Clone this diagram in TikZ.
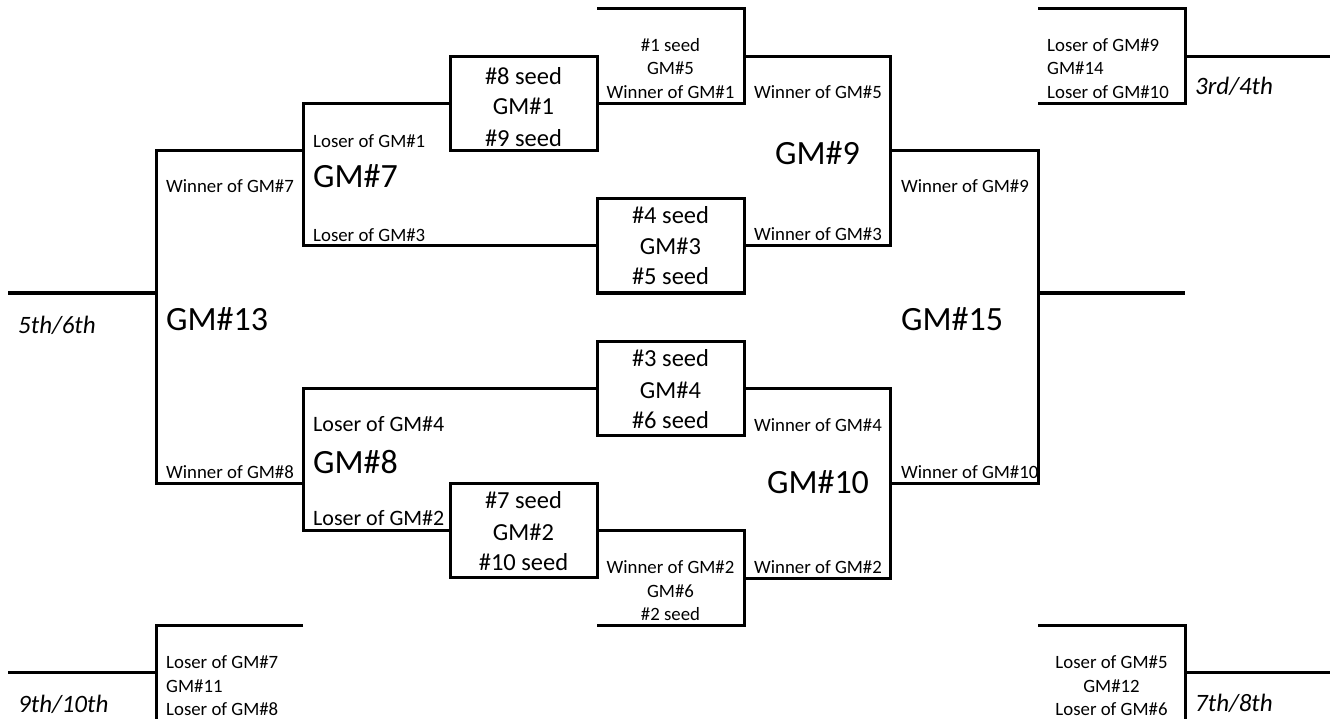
\documentclass[tikz,border=0pt]{standalone}
\usepackage{fontspec}
\setmainfont{Carlito}
\begin{document}
\begin{tikzpicture}[x=1pt,y=-1pt,
  br/.style={line width=3pt, line join=miter},
  gamebox/.style={draw, line width=3pt, minimum width=147pt, minimum height=94pt, inner sep=0pt},
  sm/.style={inner sep=0pt, font=\fontsize{18.8}{20}\selectfont},
  md/.style={inner sep=0pt, font=\fontsize{24.5}{26}\selectfont},
  lg/.style={inner sep=0pt, font=\fontsize{34}{36}\selectfont},
  mid/.style={inner sep=0pt, font=\fontsize{22}{24}\selectfont},
  pl/.style={inner sep=0pt, font=\fontsize{25}{27}\selectfont\itshape}]
\useasboundingbox (0,0) rectangle (1330,719);
% seeded first-round boxes
\node[gamebox] (g1) at (523.5,104) {};
\node[gamebox] (g3) at (670.5,246) {};
\node[gamebox] (g4) at (670.5,388) {};
\node[gamebox] (g2) at (523.5,530) {};
% coordinates
\coordinate (e13) at (8,293);
\coordinate (q13t) at (156,151); \coordinate (q13m) at (156,293); \coordinate (q13b) at (156,483);
\coordinate (p13t) at (303,151); \coordinate (p13b) at (303,483);
\coordinate (q7t) at (303,104); \coordinate (q7b) at (303,246);
\coordinate (e5t) at (597,9); \coordinate (q5t) at (744,9); \coordinate (q5b) at (744,104); \coordinate (q5m) at (744,57);
\coordinate (q9t) at (890,57); \coordinate (q9b) at (890,246); \coordinate (q9m) at (890,151);
\coordinate (q15t) at (1038,151); \coordinate (q15m) at (1038,293); \coordinate (q15b) at (1038,483);
\coordinate (e15) at (1185,293);
\coordinate (p14t) at (1038,9); \coordinate (q14t) at (1185,9); \coordinate (q14m) at (1185,57);
\coordinate (q14b) at (1185,104); \coordinate (p14b) at (1038,104); \coordinate (e14) at (1330,57);
\coordinate (q8t) at (303,388); \coordinate (q8b) at (303,530);
\coordinate (q6t) at (744,530); \coordinate (q6b) at (744,625); \coordinate (e6b) at (597,625);
\coordinate (q10t) at (890,388); \coordinate (q10b) at (890,578); \coordinate (q10m) at (890,483);
\coordinate (r10b) at (744,578);
\coordinate (p11t) at (303,625); \coordinate (q11t) at (156,625); \coordinate (q11b) at (156,720);
\coordinate (p11b) at (303,720); \coordinate (q11m) at (156,672); \coordinate (e11) at (8,672);
\coordinate (p12t) at (1038,625); \coordinate (q12t) at (1185,625); \coordinate (q12b) at (1185,720);
\coordinate (p12b) at (1038,720); \coordinate (q12m) at (1185,672); \coordinate (e12) at (1330,672);
% brackets
\draw[br] (p13t) -- (q13t) -- (q13b) -- (p13b);
\draw[br] (e13) -- (q13m);
\draw[br] (g1.west) -- (q7t) -- (q7b) -- (g3.west);
\draw[br] (g1.east) -- (q5b) -- (q5t) -- (e5t);
\draw[br] (q5m) -- (q9t) -- (q9b) -- (g3.east);
\draw[br] (q9m) -- (q15t) -- (q15b) -- (q10m);
\draw[br] (q15m) -- (e15);
\draw[br] (p14t) -- (q14t) -- (q14b) -- (p14b);
\draw[br] (q14m) -- (e14);
\draw[br] (g4.west) -- (q8t) -- (q8b) -- (g2.west);
\draw[br] (g2.east) -- (q6t) -- (q6b) -- (e6b);
\draw[br] (g4.east) -- (q10t) -- (q10b) -- (r10b);
\draw[br] (p11t) -- (q11t) -- (q11b) -- (p11b);
\draw[br] (e11) -- (q11m);
\draw[br] (p12t) -- (q12t) -- (q12b) -- (p12b);
\draw[br] (q12m) -- (e12);
% GM#13
\node[sm, anchor=base west] (w7) at (166,193) {Winner of GM\#7};
\node[lg, anchor=base west] (l13) at (166,330) {GM\#13};
\node[sm, anchor=base west] (w8) at (166,478) {Winner of GM\#8};
\node[pl, anchor=base west] (r56) at (18,333) {5th/6th};
% GM#7
\node[sm, anchor=base west] (lo1) at (313,148) {Loser of GM\#1};
\node[lg, anchor=base west] (l7) at (313,188) {GM\#7};
\node[sm, anchor=base west] (lo3) at (313,242) {Loser of GM\#3};
% GM#1 box
\node[md, anchor=base] (s8) at (523.5,85) {\#8 seed};
\node[md, anchor=base] (l1) at (523.5,115) {GM\#1};
\node[md, anchor=base] (s9) at (523.5,147) {\#9 seed};
% GM#5
\node[sm, anchor=base] (s1) at (670.5,52) {\#1 seed};
\node[sm, anchor=base] (l5) at (670.5,75) {GM\#5};
\node[sm, anchor=base] (w1) at (670.5,99) {Winner of GM\#1};
% GM#9
\node[sm, anchor=base west] (w5) at (754,99) {Winner of GM\#5};
\node[lg, anchor=base] (l9) at (817.5,165) {GM\#9};
\node[sm, anchor=base west] (w3) at (754,241) {Winner of GM\#3};
% GM#3 box
\node[md, anchor=base] (s4) at (670.5,224) {\#4 seed};
\node[md, anchor=base] (l3) at (670.5,255) {GM\#3};
\node[md, anchor=base] (s5) at (670.5,285) {\#5 seed};
% GM#15
\node[sm, anchor=base west] (w9) at (901,193) {Winner of GM\#9};
\node[lg, anchor=base west] (l15) at (901,330) {GM\#15};
\node[sm, anchor=base west] (w10) at (901,478) {Winner of GM\#10};
% GM#14
\node[sm, anchor=base west] (lo9) at (1047,52) {Loser of GM\#9};
\node[sm, anchor=base west] (l14) at (1047,75) {GM\#14};
\node[sm, anchor=base west] (lo10) at (1047,99) {Loser of GM\#10};
\node[pl, anchor=base west] (r34) at (1195,95) {3rd/4th};
% GM#4 box
\node[md, anchor=base] (s3) at (670.5,366) {\#3 seed};
\node[md, anchor=base] (l4) at (670.5,398) {GM\#4};
\node[md, anchor=base] (s6) at (670.5,428) {\#6 seed};
% GM#8
\node[mid, anchor=base west] (lo4) at (313,431) {Loser of GM\#4};
\node[lg, anchor=base west] (l8) at (313,473) {GM\#8};
\node[mid, anchor=base west] (lo2) at (313,525) {Loser of GM\#2};
% GM#10
\node[sm, anchor=base west] (w4) at (754,431) {Winner of GM\#4};
\node[lg, anchor=base] (l10) at (818,493) {GM\#10};
\node[sm, anchor=base west] (w2b) at (754,573) {Winner of GM\#2};
% GM#2 box
\node[md, anchor=base] (s7) at (523.5,508) {\#7 seed};
\node[md, anchor=base] (l2) at (523.5,540) {GM\#2};
\node[md, anchor=base] (s10) at (523.5,570) {\#10 seed};
% GM#6
\node[sm, anchor=base] (w2a) at (670.5,573) {Winner of GM\#2};
\node[sm, anchor=base] (l6) at (670.5,597) {GM\#6};
\node[sm, anchor=base] (s2) at (670.5,620) {\#2 seed};
% GM#11
\node[sm, anchor=base west] (lo7) at (166,668) {Loser of GM\#7};
\node[sm, anchor=base west] (l11) at (166,692) {GM\#11};
\node[sm, anchor=base west] (lo8) at (166,715) {Loser of GM\#8};
\node[pl, anchor=base west] (r910) at (18,712) {9th/10th};
% GM#12
\node[sm, anchor=base] (lo5) at (1111.5,668) {Loser of GM\#5};
\node[sm, anchor=base] (l12) at (1111.5,692) {GM\#12};
\node[sm, anchor=base] (lo6) at (1111.5,715) {Loser of GM\#6};
\node[pl, anchor=base west] (r78) at (1195,711) {7th/8th};
\end{tikzpicture}
\end{document}
